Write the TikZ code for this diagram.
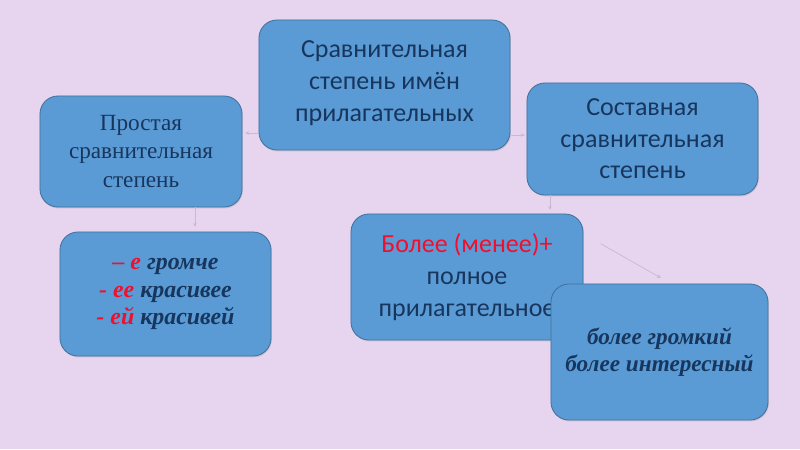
\documentclass[tikz,border=0pt]{standalone}
\usepackage{fontspec}
\usepackage{tikz}
\usetikzlibrary{arrows.meta}
\usetikzlibrary{shadows}

\newfontfamily\rmru{Liberation Serif}
\newfontfamily\sfru{Carlito}

\definecolor{backdrop}{HTML}{E7D5EF}
\definecolor{boxfill}{HTML}{5B9BD5}
\definecolor{boxline}{HTML}{41719C}
\definecolor{ink}{HTML}{17365D}
\definecolor{ending}{HTML}{F0102E}
\definecolor{faint}{HTML}{CDB6CF}

\begin{document}
\begin{tikzpicture}[
x=0.025cm, y=-0.025cm,
box/.style={
    draw=boxline,
    line width=0.6pt,
    fill=boxfill,
    rounded corners=0.45cm,
    text=ink,
    align=center,
    inner sep=0pt,
    drop shadow={opacity=0.25, shadow xshift=0.6pt, shadow yshift=-1pt}
},
link/.style={
    draw=faint,
    line width=0.5pt,
    -{Stealth[length=3pt, width=2.5pt]}
}
]
\useasboundingbox[fill=backdrop] (0,0) rectangle (800,449);

\node[box, minimum width=6.275cm, minimum height=3.25cm, text depth=0.2cm,
    font=\sfru\fontsize{18.5}{22.5}\selectfont] (degree) at (384.5,85)
    {Сравнительная\\степень имён\\прилагательных};
\node[box, minimum width=5.05cm, minimum height=2.775cm,
    font=\rmru\fontsize{16.5}{20}\selectfont] (simple) at (141,151.5)
    {Простая\\сравнительная\\степень};
\node[box, minimum width=5.775cm, minimum height=2.8cm,
    font=\sfru\fontsize{18.5}{22.5}\selectfont] (compound) at (642.5,139)
    {Составная\\сравнительная\\степень};
\node[box, minimum width=5.275cm, minimum height=3.1cm,
    font=\rmru\bfseries\itshape\fontsize{17}{19.5}\selectfont] (suffix) at (165.5,294)
    {\textcolor{ending}{– е} громче\\\textcolor{ending}{- ее} красивее\\\textcolor{ending}{- ей} красивей};
\node[box, minimum width=5.8cm, minimum height=3.15cm,
    font=\sfru\fontsize{18.5}{22.5}\selectfont] (more) at (467,277)
    {\textcolor{ending}{Более (менее)+}\\полное\\прилагательное};
\node[box, minimum width=5.425cm, minimum height=3.4cm,
    font=\rmru\bfseries\itshape\fontsize{16.5}{19.5}\selectfont] (louder) at (659.5,352)
    {более громкий\\более интересный};

% faint connectors, only the tips show
\coordinate (tipA) at (245,133);
\coordinate (tipC) at (525,135);
\coordinate (tipD) at (195,227);
\coordinate (tipE) at (550,210);
\coordinate (tipF) at (661,278);

\draw[link] (degree.west |- tipA) -- (tipA);
\draw[link] (degree.east |- tipC) -- (tipC);
\draw[link] (simple.south -| tipD) -- (tipD);
\draw[link] (compound.south -| tipE) -- (tipE);
\draw[link] (more.north east) ++(17,30) coordinate (startF) (startF) -- (tipF);
\end{tikzpicture}
\end{document}
